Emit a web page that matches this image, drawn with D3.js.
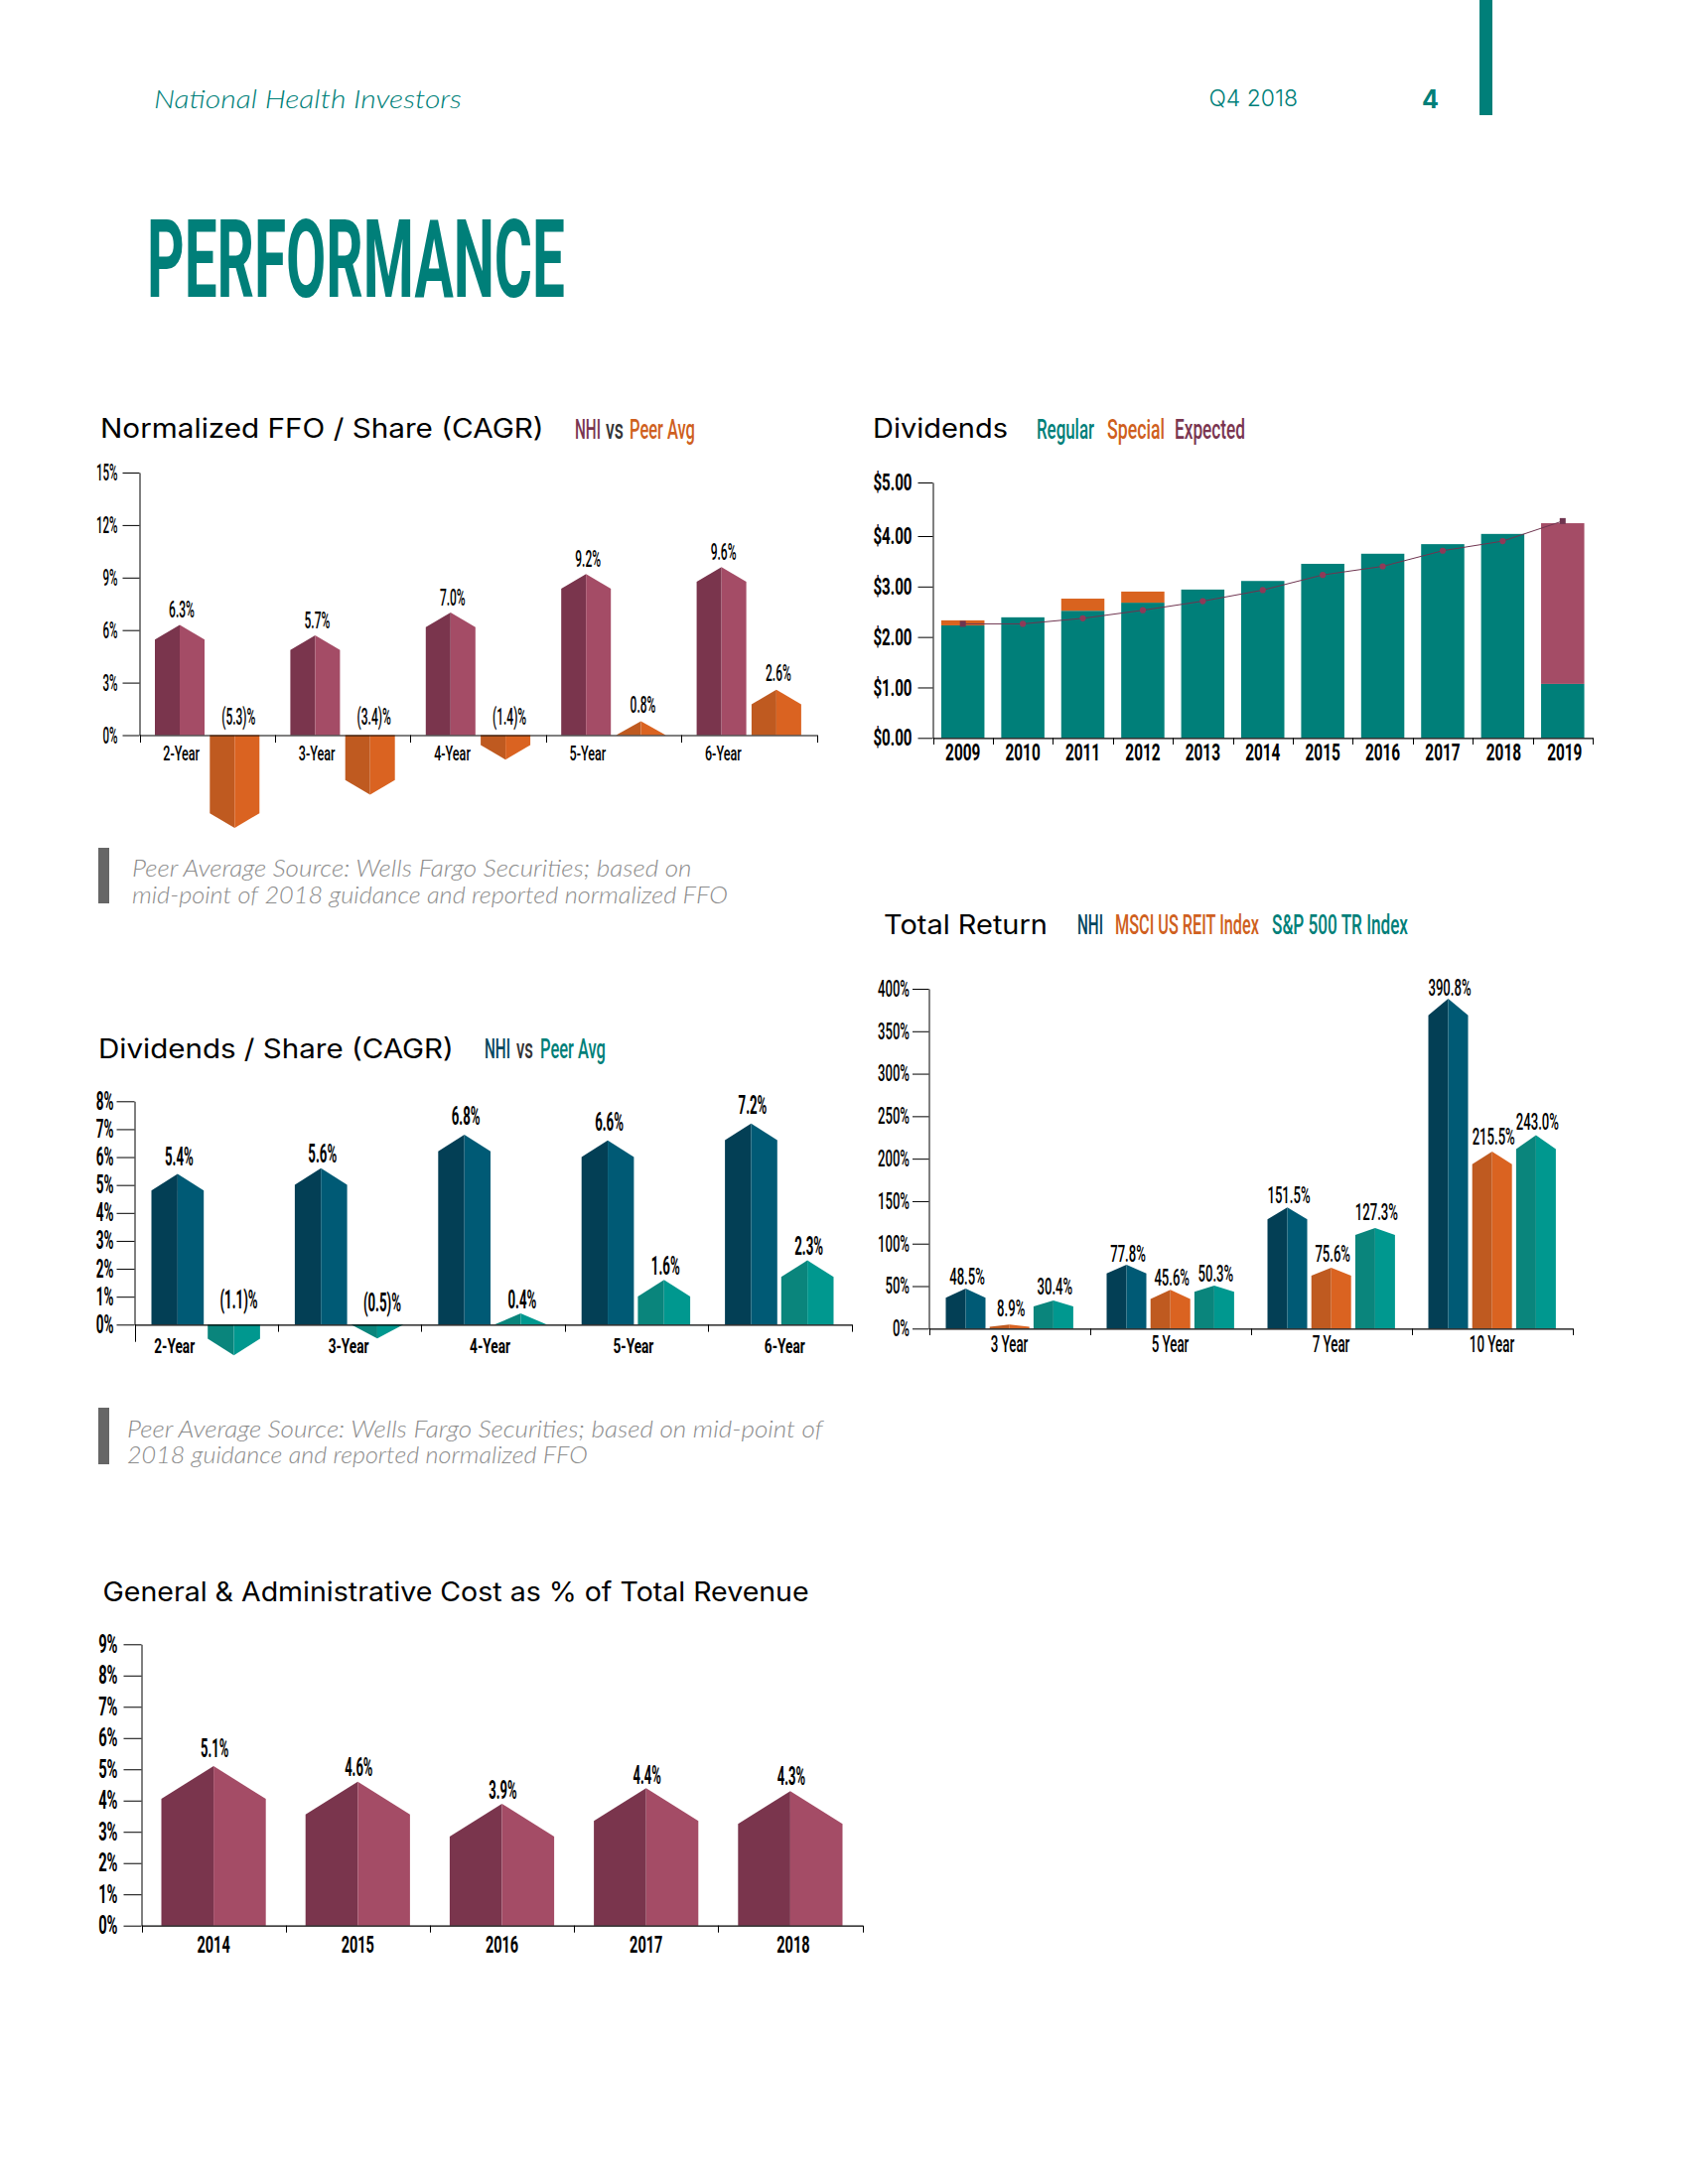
<!DOCTYPE html>
<html><head><meta charset="utf-8">
<script src="https://cdnjs.cloudflare.com/ajax/libs/d3/7.8.5/d3.min.js"></script>
<style>html,body{margin:0;padding:0;background:#fff}svg{display:block}</style>
</head><body><svg id="page" width="1700" height="2200"></svg>
<script>
// ---------- data ----------
const ffoCats = ["2-Year","3-Year","4-Year","5-Year","6-Year"];
const ffoNhi = [6.3,5.7,7.0,9.2,9.6];
const ffoPeer = [-5.3,-3.4,-1.4,0.8,2.6];
const ffoNhiLabels = ["6.3%","5.7%","7.0%","9.2%","9.6%"];
const ffoPeerLabels = ["(5.3)%","(3.4)%","(1.4)%","0.8%","2.6%"];
const ffoTicks = [0,3,6,9,12,15];

const divYears = ["2009","2010","2011","2012","2013","2014","2015","2016","2017","2018","2019"];
const divRegular = [2.23,2.39,2.52,2.68,2.94,3.11,3.45,3.65,3.84,4.04,1.07];
const divSpecial = [0.10,0,0.24,0.22,0,0,0,0,0,0,0];
const divExpected = [0,0,0,0,0,0,0,0,0,0,3.17];
const divLine = [2.26,2.26,2.37,2.53,2.71,2.93,3.23,3.40,3.71,3.90,4.28];
const divTicks = [0,1,2,3,4,5];

const dpsCats = ["2-Year","3-Year","4-Year","5-Year","6-Year"];
const dpsNhi = [5.4,5.6,6.8,6.6,7.2];
const dpsPeer = [-1.1,-0.5,0.4,1.6,2.3];
const dpsNhiLabels = ["5.4%","5.6%","6.8%","6.6%","7.2%"];
const dpsPeerLabels = ["(1.1)%","(0.5)%","0.4%","1.6%","2.3%"];
const dpsTicks = [0,1,2,3,4,5,6,7,8];

const trCats = ["3 Year","5 Year","7 Year","10 Year"];
const trNhi = [47.1,75.2,142.6,388.3];      // bar heights as drawn in the picture
const trMsci = [4.7,45.6,71.7,208.4];
const trSp = [33.1,50.6,118.4,227.5];
const trNhiLabels = ["48.5%","77.8%","151.5%","390.8%"];
const trMsciLabels = ["8.9%","45.6%","75.6%","215.5%"];
const trSpLabels = ["30.4%","50.3%","127.3%","243.0%"];
const trTicks = [0,50,100,150,200,250,300,350,400];

const gaCats = ["2014","2015","2016","2017","2018"];
const gaValues = [5.1,4.6,3.9,4.4,4.3];
const gaLabels = ["5.1%","4.6%","3.9%","4.4%","4.3%"];
const gaTicks = [0,1,2,3,4,5,6,7,8,9];

// ---------- palette ----------
const C = {
  maroon:["#7a354d","#a44c66"], orange:["#bf5a20","#da6321"],
  navy:["#033f55","#005a75"], teal:["#0a857c","#00988f"],
  tealFlat:"#007f79", tealText:"#007f79", maroonText:"#7a3550", orangeText:"#cf5f20", navyText:"#04465e",
  line:"#6f3550", dot:"#8f3a58", expected:"#a44c66", special:"#d9631f", note:"#8c8c8c", noteBar:"#666666"
};
const COND = "Roboto, 'Liberation Sans', sans-serif";
const TITLE = "Inter, 'Open Sans', sans-serif";
const NOTE = "Lato, 'Open Sans', sans-serif";

const svg = d3.select("#page");

// horizontal condensing through a transform, so the drawn box is the true one
function squeeze(sel, sx){
  sel.each(function(){
    const t=d3.select(this), x=+t.attr("x")||0, y=+t.attr("y")||0;
    t.attr("x",0).attr("y",0).attr("transform",`translate(${x},${y}) scale(${sx},1)`);
  });
}
// text fitted between two x positions
function fit(t, x0, x1, y, size, o={}){
  const el=svg.append("text").text(t)
    .attr("font-family",o.font||COND).attr("font-size",size)
    .attr("font-weight",o.weight||400).attr("font-style",o.style||"normal")
    .attr("fill",o.fill||"#000");
  const n=el.node().getComputedTextLength();
  return el.attr("transform",`translate(${x0},${y}) scale(${(x1-x0)/n},1)`);
}
function house(xl, w, yv, y0, T){
  const s = yv<y0?1:-1, h=Math.abs(y0-yv), tip=Math.min(T,h), ys=yv+s*tip, xc=xl+w/2, xr=xl+w;
  const line=d3.line();
  return [line([[xl,y0],[xl,ys],[xc,yv],[xc,y0]])+"Z", line([[xc,y0],[xc,yv],[xr,ys],[xr,y0]])+"Z"];
}
function yAxis(g, y, ticks, fmt, o){
  const a=d3.axisLeft(y).tickValues(ticks).tickFormat(fmt).tickSize(o.len).tickPadding(o.pad).tickSizeOuter(0);
  const ax=g.append("g").attr("transform",`translate(${o.x},0)`).call(a);
  ax.selectAll("line,path").attr("stroke","#000").attr("stroke-width",1);
  const txt=ax.selectAll("text").attr("font-family",COND).attr("font-size",o.size).attr("font-weight",o.weight).attr("fill","#000");
  squeeze(txt,o.sx);
}
function xAxis(g, band, o){
  const a=d3.axisBottom(band).tickSize(0).tickSizeOuter(0);
  const ax=g.append("g").attr("transform",`translate(0,${o.y})`).call(a);
  ax.select("path").attr("stroke","#000").attr("stroke-width",1.2);
  const txt=ax.selectAll("text").attr("font-family",COND).attr("font-size",o.size).attr("font-weight",o.weight).attr("fill","#000")
    .attr("y",o.base).attr("dy",0).attr("x",(d,i)=>o.dx?o.dx[i]:0);
  squeeze(txt,o.sx);
  const [r0,r1]=band.range(), step=(r1-r0)/band.domain().length;
  ax.selectAll("line.edge").data(d3.range(band.domain().length+1)).enter().append("line").attr("class","edge")
    .attr("x1",i=>Math.round(r0+i*step)+.5).attr("x2",i=>Math.round(r0+i*step)+.5)
    .attr("y1",0).attr("y2",i=>i===0&&o.firstLen?o.firstLen:o.tick).attr("stroke","#000");
}
// grouped "house" bar chart
function houses(cfg){
  const g=svg.append("g");
  const y=d3.scaleLinear().domain(cfg.domain).range(cfg.yRange);
  const x=d3.scaleBand().domain(cfg.cats).range(cfg.xRange);
  const n=cfg.series.length;
  const inner=d3.scaleBand().domain(d3.range(n))
    .range([cfg.off, cfg.off+n*cfg.w+(n-1)*cfg.gap]).paddingInner(cfg.gap/(cfg.w+cfg.gap)).paddingOuter(0);
  yAxis(g,y,cfg.ticks,cfg.fmt,cfg.yAxis);
  cfg.series.forEach((s,si)=>{
    s.values.forEach((v,i)=>{
      const xl=x(cfg.cats[i])+inner(si), w=inner.bandwidth(), T=s.tips?s.tips[i]:cfg.tip;
      const [a,b]=house(xl,w,y(v),y(0),T);
      g.append("path").attr("d",a).attr("fill",s.colors[0]);
      g.append("path").attr("d",b).attr("fill",s.colors[1]);
      const gap=s.gaps?s.gaps[i]:cfg.labelGap;
      const ly=v<0?y(0)-gap:y(v)-gap;
      const t=g.append("text").text(s.labels[i]).attr("x",xl+w/2+(v<0?cfg.negDx:cfg.posDx)).attr("y",ly)
        .attr("text-anchor","middle").attr("font-family",COND).attr("font-size",cfg.val.size)
        .attr("font-weight",cfg.val.weight).attr("fill","#000");
      squeeze(t,cfg.val.sx);
    });
  });
  xAxis(g,x,Object.assign({y:y(0)},cfg.xAxis));
}

// ---------- page furniture ----------
svg.append("rect").attr("x",1490).attr("y",0).attr("width",13).attr("height",116).attr("fill",C.tealFlat);
fit("National Health Investors",155,465,109,25,{font:NOTE,style:"italic",weight:300,fill:C.tealText});
fit("Q4 2018",1217.5,1307,107,23,{font:TITLE,weight:300,fill:C.tealText});
fit("4",1432,1449,109,26,{font:TITLE,weight:700,fill:C.tealText});
fit("PERFORMANCE",148,569,299,110,{weight:700,fill:C.tealFlat});

// ---------- titles & legends ----------
const LEG=27;
fit("Normalized FFO / Share (CAGR)",101,548,441,27,{font:TITLE});
fit("NHI",579,605,442,LEG,{fill:C.maroonText,weight:500});
fit("vs",610,628,442,LEG,{weight:500,fill:"#333"});
fit("Peer Avg",634,700,442,LEG,{fill:C.orangeText,weight:500});

fit("Dividends",879,1015,441,27,{font:TITLE});
fit("Regular",1044,1102,442,LEG,{fill:C.tealText,weight:500});
fit("Special",1115,1173,442,LEG,{fill:C.orangeText,weight:500});
fit("Expected",1183,1254,442,LEG,{fill:C.maroonText,weight:500});

fit("Total Return",890,1055,941,27,{font:TITLE});
fit("NHI",1085,1111,941,LEG,{fill:C.navyText,weight:500});
fit("MSCI US REIT Index",1123,1268,941,LEG,{fill:C.orangeText,weight:500});
fit("S&P 500 TR Index",1281,1418,941,LEG,{fill:C.tealText,weight:500});

fit("Dividends / Share (CAGR)",99,457,1066,27,{font:TITLE});
fit("NHI",488,514,1066,LEG,{fill:C.navyText,weight:500});
fit("vs",520,537,1066,LEG,{weight:500,fill:"#333"});
fit("Peer Avg",544,610,1066,LEG,{fill:C.tealText,weight:500});

fit("General & Administrative Cost as % of Total Revenue",103.5,815,1613,27,{font:TITLE});

// ---------- notes ----------
const noteOpts={font:NOTE,style:"italic",weight:300,fill:C.note};
svg.append("rect").attr("x",99).attr("y",854).attr("width",11).attr("height",56).attr("fill",C.noteBar);
fit("Peer Average Source: Wells Fargo Securities; based on",133,697,883,23,noteOpts);
fit("mid-point of 2018 guidance and reported normalized FFO",133,733,910,23,noteOpts);
svg.append("rect").attr("x",99).attr("y",1418).attr("width",11).attr("height",57).attr("fill",C.noteBar);
fit("Peer Average Source: Wells Fargo Securities; based on mid-point of",128,829,1448,23,noteOpts);
fit("2018 guidance and reported normalized FFO",128,592,1474,23,noteOpts);

// ---------- Normalized FFO / Share ----------
houses({cats:ffoCats,domain:[0,15],yRange:[740.5,476],xRange:[140.5,822.5],ticks:ffoTicks,fmt:d=>d+"%",
  off:15.5,w:50,gap:5.3,tip:14.8,labelGap:7,posDx:2,negDx:4,
  series:[{values:ffoNhi,labels:ffoNhiLabels,colors:C.maroon},
          {values:ffoPeer,labels:ffoPeerLabels,colors:C.orange,gaps:[11,11,11,8,8.5]}],
  val:{size:24,weight:500,sx:.5},
  yAxis:{x:140.5,len:17,pad:5,size:24,weight:500,sx:.48},
  xAxis:{base:25,size:21,weight:500,sx:.6,tick:7.6,dx:[-26,-26,-26,-26,-26]}});

// ---------- Dividends ----------
(function(){
  const g=svg.append("g");
  const y=d3.scaleLinear().domain([0,4,5]).range([743.3,540,486]);
  const x=d3.scaleBand().domain(divYears).range([939.5,1604]).paddingInner(.28).paddingOuter(.14);
  yAxis(g,y,divTicks,d3.format("$.2f"),{x:939.5,len:15,pad:6,size:24,weight:700,sx:.63});
  const stack=[[divRegular,C.tealFlat],[divSpecial,C.special],[divExpected,C.expected]];
  divYears.forEach((yr,i)=>{
    let base=0;
    stack.forEach(([vals,col])=>{
      const v=vals[i];
      if(v>0){
        g.append("rect").attr("x",x(yr)).attr("width",x.bandwidth())
          .attr("y",y(base+v)).attr("height",y(base)-y(base+v)).attr("fill",col);
        base+=v;
      }
    });
  });
  const cx=i=>x(divYears[i])+x.bandwidth()/2;
  g.append("path").attr("d",d3.line().x((d,i)=>cx(i)).y(d=>y(d))(divLine))
    .attr("fill","none").attr("stroke",C.line).attr("stroke-width",1);
  g.selectAll("path.dot").data(divLine).enter().append("path").attr("class","dot")
    .attr("d",(d,i)=>d3.symbol().type(i===0||i===divLine.length-1?d3.symbolSquare:d3.symbolCircle).size(i===0||i===divLine.length-1?36:30)())
    .attr("transform",(d,i)=>`translate(${cx(i)},${y(d)})`)
    .attr("fill",(d,i)=>i===0||i===divLine.length-1?C.line:C.dot);
  xAxis(g,x,{y:y(0),base:23,size:24,weight:700,sx:.64,tick:6.7,dx:[0,0,0,0,0,0,0,0,0,1,2]});
})();

// ---------- Total Return ----------
houses({cats:trCats,domain:[0,400],yRange:[1338.3,996],xRange:[935.5,1583.5],ticks:trTicks,fmt:d=>d+"%",
  off:17,w:40,gap:4.2,tip:12,labelGap:4,posDx:1.5,negDx:0,
  series:[{values:trNhi,labels:trNhiLabels,colors:C.navy,tips:[9.3,8.7,12,16.7],gaps:[3.7,3,4.7,3.3]},
          {values:trMsci,labels:trMsciLabels,colors:C.orange,tips:[2.3,9.3,8,12.7],gaps:[8.7,4.7,6.3,7.3]},
          {values:trSp,labels:trSpLabels,colors:C.teal,tips:[6,6.3,7,14],gaps:[6,3.7,7.7,5.3]}],
  val:{size:23,weight:500,sx:.57},
  yAxis:{x:935.5,len:16.5,pad:3,size:23,weight:500,sx:.57},
  xAxis:{base:24,size:23,weight:500,sx:.58,tick:6.7}});

// ---------- Dividends / Share ----------
houses({cats:dpsCats,domain:[0,8],yRange:[1334.3,1109.3],xRange:[135.5,857.5],ticks:dpsTicks,fmt:d=>d+"%",
  off:17,w:52.7,gap:4,tip:16.7,labelGap:8,posDx:1.5,negDx:5,
  series:[{values:dpsNhi,labels:dpsNhiLabels,colors:C.navy,gaps:[8.3,6.3,9.7,9.3,10.3]},
          {values:dpsPeer,labels:dpsPeerLabels,colors:C.teal,gaps:[16.7,13.7,4.7,5,5.3]}],
  val:{size:25,weight:700,sx:.53},
  yAxis:{x:135.5,len:18,pad:3,size:25,weight:700,sx:.54},
  xAxis:{base:29,size:21,weight:700,sx:.65,tick:7.3,firstLen:17.4,dx:[-32,-1,-3,-3,5]}});

// ---------- G&A ----------
houses({cats:gaCats,domain:[0,9],yRange:[1939.7,1656.3],xRange:[142.5,868.5],ticks:gaTicks,fmt:d=>d+"%",
  off:20,w:105.2,gap:0,tip:33,labelGap:6,posDx:1,negDx:0,
  series:[{values:gaValues,labels:gaLabels,colors:C.maroon,gaps:[9,6.3,5,3.7,6.7]}],
  val:{size:25,weight:700,sx:.52},
  yAxis:{x:142.5,len:18,pad:6,size:25,weight:700,sx:.59},
  xAxis:{base:27,size:23,weight:700,sx:.63,tick:7,dx:[0,0,0,0,3]}});
</script></body></html>
